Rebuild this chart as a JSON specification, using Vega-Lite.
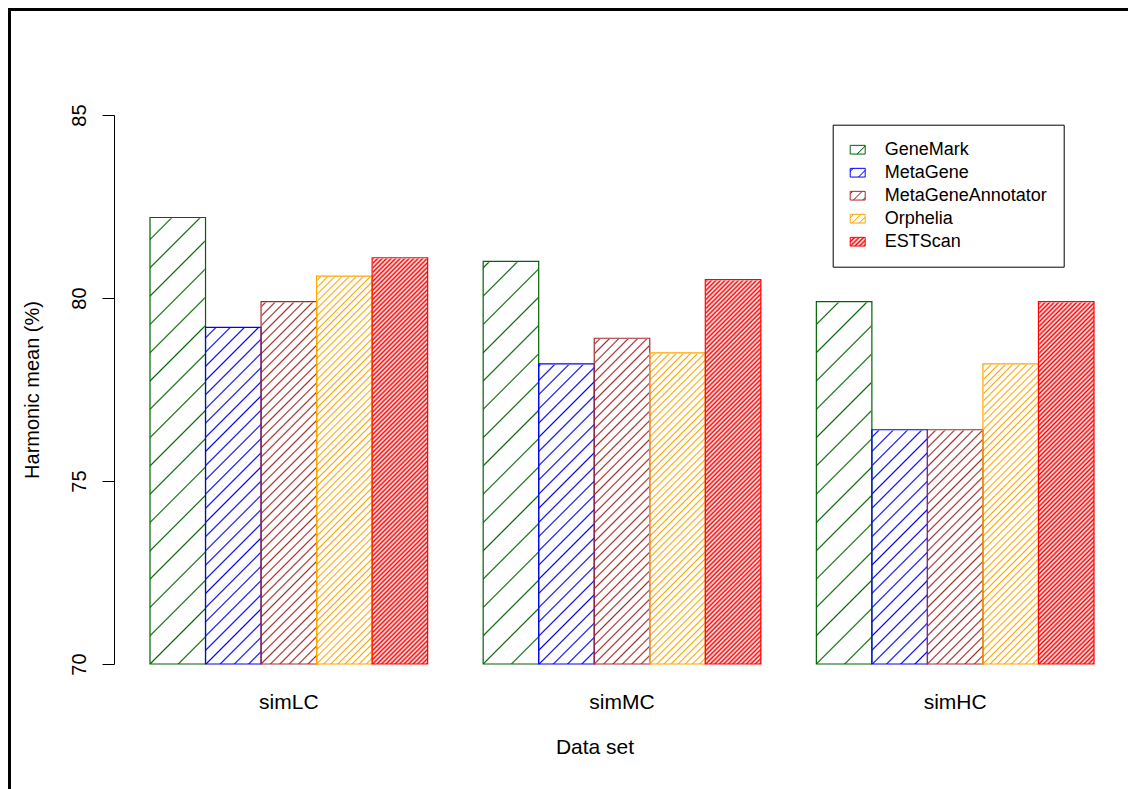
{
"$schema": "https://vega.github.io/schema/vega-lite/v6.json",
"autosize": "none",
"padding": {"left": 9, "top": 9, "right": 0, "bottom": 0},
"width": 1119,
"height": 780,
"background": "white",
"params": [
{"name": "lgGM", "value": {"gradient":"linear","x1":0,"y1":0,"x2":1.2471,"y2":0.7233,"stops":[{"offset":0,"color":"#fff"},{"offset":0.576,"color":"#fff"},{"offset":0.624,"color":"#006400"},{"offset":0.672,"color":"#fff"},{"offset":1,"color":"#fff"}]}},
{"name": "lgMG", "value": {"gradient":"linear","x1":0,"y1":0,"x2":1.2471,"y2":0.7233,"stops":[{"offset":0,"color":"#fff"},{"offset":0.072,"color":"#fff"},{"offset":0.12,"color":"#00f"},{"offset":0.168,"color":"#fff"},{"offset":0.632,"color":"#fff"},{"offset":0.68,"color":"#00f"},{"offset":0.728,"color":"#fff"},{"offset":1,"color":"#fff"}]}},
{"name": "lgMGA", "value": {"gradient":"linear","x1":0,"y1":0,"x2":1.2471,"y2":0.7233,"stops":[{"offset":0,"color":"#fff"},{"offset":0.052,"color":"#fff"},{"offset":0.1,"color":"#a52a2a"},{"offset":0.148,"color":"#fff"},{"offset":0.428,"color":"#fff"},{"offset":0.476,"color":"#a52a2a"},{"offset":0.524,"color":"#fff"},{"offset":0.804,"color":"#fff"},{"offset":0.852,"color":"#a52a2a"},{"offset":0.9,"color":"#fff"},{"offset":1,"color":"#fff"}]}},
{"name": "lgOR", "value": {"gradient":"linear","x1":0,"y1":0,"x2":1.2471,"y2":0.7233,"stops":[{"offset":0,"color":"#fff"},{"offset":0.092,"color":"#fff"},{"offset":0.14,"color":"#ffa500"},{"offset":0.188,"color":"#fff"},{"offset":0.376,"color":"#fff"},{"offset":0.424,"color":"#ffa500"},{"offset":0.472,"color":"#fff"},{"offset":0.66,"color":"#fff"},{"offset":0.708,"color":"#ffa500"},{"offset":0.756,"color":"#fff"},{"offset":1,"color":"#fff"}]}},
{"name": "lgES", "value": {"gradient":"linear","x1":0,"y1":0,"x2":1.2471,"y2":0.7233,"stops":[{"offset":0,"color":"#f00"},{"offset":0.09,"color":"#fff"},{"offset":0.18,"color":"#f00"},{"offset":0.27,"color":"#fff"},{"offset":0.36,"color":"#f00"},{"offset":0.45,"color":"#fff"},{"offset":0.54,"color":"#f00"},{"offset":0.63,"color":"#fff"},{"offset":0.72,"color":"#f00"},{"offset":0.81,"color":"#fff"},{"offset":0.9,"color":"#f00"},{"offset":0.99,"color":"#fff"}]}}
],
"data": {"values": [
{"set":"simLC","method":"GeneMark","value":82.2},
{"set":"simLC","method":"MetaGene","value":79.2},
{"set":"simLC","method":"MetaGeneAnnotator","value":79.9},
{"set":"simLC","method":"Orphelia","value":80.6},
{"set":"simLC","method":"ESTScan","value":81.1},
{"set":"simMC","method":"GeneMark","value":81.0},
{"set":"simMC","method":"MetaGene","value":78.2},
{"set":"simMC","method":"MetaGeneAnnotator","value":78.9},
{"set":"simMC","method":"Orphelia","value":78.5},
{"set":"simMC","method":"ESTScan","value":80.5},
{"set":"simHC","method":"GeneMark","value":79.9},
{"set":"simHC","method":"MetaGene","value":76.4},
{"set":"simHC","method":"MetaGeneAnnotator","value":76.4},
{"set":"simHC","method":"Orphelia","value":78.2},
{"set":"simHC","method":"ESTScan","value":79.9}
]},
"layer": [
{
"encoding": {
"x": {"field":"set","type":"nominal","sort":["simLC","simMC","simHC"],
 "scale":{"domain":["simLC","simMC","simHC"],"range":[141,1085],"paddingInner":0.166667,"paddingOuter":0},
 "axis":{"orient":"bottom","offset":-125,"domain":false,"ticks":false,"tickSize":0,"labelPadding":44.3,"labelBaseline":"alphabetic","labelAngle":0,"labelFontSize":21,"title":"Data set","titleFontSize":21,"titleX":585.5,"titleY":89.3,"titleBaseline":"alphabetic","titleAlign":"center","grid":false}},
"xOffset": {"field":"method","type":"nominal","scale":{"domain":["GeneMark","MetaGene","MetaGeneAnnotator","Orphelia","ESTScan"],"paddingInner":0,"paddingOuter":0}}
},
"layer": [
{"mark":{"type":"bar"},
 "encoding":{"y":{"field":"value","type":"quantitative","scale":{"domain":[70,85],"range":[655,106],"zero":false,"nice":false},"title":"Harmonic mean (%)"},"y2":{"datum":70},
  "fill":{"field":"method","type":"nominal",
   "scale":{"domain":["GeneMark","MetaGene","MetaGeneAnnotator","Orphelia","ESTScan"],"range":[{"expr":"lgGM"},{"expr":"lgMG"},{"expr":"lgMGA"},{"expr":"lgOR"},{"expr":"lgES"}]},
   "legend":{"orient":"none","legendX":823.7,"legendY":115.7,"title":null,"strokeColor":"black","fillColor":"white","padding":16,
    "symbolType":"M-1,-0.58H1V0.58H-1Z","symbolSize":225,"symbolStrokeColor":"black","symbolStrokeWidth":1,"symbolOpacity":1,
    "labelFontSize":18,"labelColor":"black","labelOffset":18,"labelLimit":400,"rowPadding":5}}}},
{"transform":[{"filter":"datum.method === 'GeneMark'"}],
 "mark":{"type":"bar","strokeWidth":0,"fill":{"gradient":"linear","x1":0,"y1":0,"x2":0.18237,"y2":1.80305,"stops":[
{"offset":0,"color":"#fff"},
{"offset":0.1229,"color":"#fff"},{"offset":0.1245,"color":"#006400"},{"offset":0.1261,"color":"#fff"},
{"offset":0.1512,"color":"#fff"},{"offset":0.1528,"color":"#006400"},{"offset":0.1544,"color":"#fff"},
{"offset":0.1795,"color":"#fff"},{"offset":0.1811,"color":"#006400"},{"offset":0.1827,"color":"#fff"},
{"offset":0.2078,"color":"#fff"},{"offset":0.2094,"color":"#006400"},{"offset":0.2110,"color":"#fff"},
{"offset":0.2361,"color":"#fff"},{"offset":0.2377,"color":"#006400"},{"offset":0.2393,"color":"#fff"},
{"offset":0.2644,"color":"#fff"},{"offset":0.2660,"color":"#006400"},{"offset":0.2676,"color":"#fff"},
{"offset":0.2927,"color":"#fff"},{"offset":0.2943,"color":"#006400"},{"offset":0.2959,"color":"#fff"},
{"offset":0.3210,"color":"#fff"},{"offset":0.3226,"color":"#006400"},{"offset":0.3242,"color":"#fff"},
{"offset":0.3493,"color":"#fff"},{"offset":0.3509,"color":"#006400"},{"offset":0.3525,"color":"#fff"},
{"offset":0.3776,"color":"#fff"},{"offset":0.3792,"color":"#006400"},{"offset":0.3808,"color":"#fff"},
{"offset":0.4059,"color":"#fff"},{"offset":0.4075,"color":"#006400"},{"offset":0.4091,"color":"#fff"},
{"offset":0.4342,"color":"#fff"},{"offset":0.4358,"color":"#006400"},{"offset":0.4374,"color":"#fff"},
{"offset":0.4625,"color":"#fff"},{"offset":0.4641,"color":"#006400"},{"offset":0.4657,"color":"#fff"},
{"offset":0.4908,"color":"#fff"},{"offset":0.4924,"color":"#006400"},{"offset":0.4940,"color":"#fff"},
{"offset":0.5191,"color":"#fff"},{"offset":0.5207,"color":"#006400"},{"offset":0.5223,"color":"#fff"},
{"offset":0.5474,"color":"#fff"},{"offset":0.5490,"color":"#006400"},{"offset":0.5506,"color":"#fff"},
{"offset":0.5757,"color":"#fff"},{"offset":0.5773,"color":"#006400"},{"offset":0.5789,"color":"#fff"},
{"offset":1,"color":"#fff"}]}},
 "encoding":{"y":{"datum":85,"type":"quantitative","scale":{"domain":[70,85],"range":[655,106],"zero":false,"nice":false},"title":"Harmonic mean (%)"},"y2":{"datum":70}}},
{"transform":[{"filter":"datum.method === 'MetaGene'"}],
 "mark":{"type":"bar","strokeWidth":0,"fill":{"gradient":"linear","x1":0,"y1":0,"x2":0.18237,"y2":1.80305,"stops":[
{"offset":0,"color":"#fff"},
{"offset":0.2213,"color":"#fff"},{"offset":0.2229,"color":"#00f"},{"offset":0.2245,"color":"#fff"},
{"offset":0.2355,"color":"#fff"},{"offset":0.2371,"color":"#00f"},{"offset":0.2387,"color":"#fff"},
{"offset":0.2497,"color":"#fff"},{"offset":0.2513,"color":"#00f"},{"offset":0.2529,"color":"#fff"},
{"offset":0.2639,"color":"#fff"},{"offset":0.2655,"color":"#00f"},{"offset":0.2671,"color":"#fff"},
{"offset":0.2781,"color":"#fff"},{"offset":0.2797,"color":"#00f"},{"offset":0.2813,"color":"#fff"},
{"offset":0.2923,"color":"#fff"},{"offset":0.2939,"color":"#00f"},{"offset":0.2955,"color":"#fff"},
{"offset":0.3065,"color":"#fff"},{"offset":0.3081,"color":"#00f"},{"offset":0.3097,"color":"#fff"},
{"offset":0.3207,"color":"#fff"},{"offset":0.3223,"color":"#00f"},{"offset":0.3239,"color":"#fff"},
{"offset":0.3349,"color":"#fff"},{"offset":0.3365,"color":"#00f"},{"offset":0.3381,"color":"#fff"},
{"offset":0.3491,"color":"#fff"},{"offset":0.3507,"color":"#00f"},{"offset":0.3523,"color":"#fff"},
{"offset":0.3633,"color":"#fff"},{"offset":0.3649,"color":"#00f"},{"offset":0.3665,"color":"#fff"},
{"offset":0.3775,"color":"#fff"},{"offset":0.3791,"color":"#00f"},{"offset":0.3807,"color":"#fff"},
{"offset":0.3917,"color":"#fff"},{"offset":0.3933,"color":"#00f"},{"offset":0.3949,"color":"#fff"},
{"offset":0.4059,"color":"#fff"},{"offset":0.4075,"color":"#00f"},{"offset":0.4091,"color":"#fff"},
{"offset":0.4201,"color":"#fff"},{"offset":0.4217,"color":"#00f"},{"offset":0.4233,"color":"#fff"},
{"offset":0.4343,"color":"#fff"},{"offset":0.4359,"color":"#00f"},{"offset":0.4375,"color":"#fff"},
{"offset":0.4485,"color":"#fff"},{"offset":0.4501,"color":"#00f"},{"offset":0.4517,"color":"#fff"},
{"offset":0.4627,"color":"#fff"},{"offset":0.4643,"color":"#00f"},{"offset":0.4659,"color":"#fff"},
{"offset":0.4769,"color":"#fff"},{"offset":0.4785,"color":"#00f"},{"offset":0.4801,"color":"#fff"},
{"offset":0.4911,"color":"#fff"},{"offset":0.4927,"color":"#00f"},{"offset":0.4943,"color":"#fff"},
{"offset":0.5053,"color":"#fff"},{"offset":0.5069,"color":"#00f"},{"offset":0.5085,"color":"#fff"},
{"offset":0.5195,"color":"#fff"},{"offset":0.5211,"color":"#00f"},{"offset":0.5227,"color":"#fff"},
{"offset":0.5337,"color":"#fff"},{"offset":0.5353,"color":"#00f"},{"offset":0.5369,"color":"#fff"},
{"offset":0.5479,"color":"#fff"},{"offset":0.5495,"color":"#00f"},{"offset":0.5511,"color":"#fff"},
{"offset":0.5621,"color":"#fff"},{"offset":0.5637,"color":"#00f"},{"offset":0.5653,"color":"#fff"},
{"offset":0.5763,"color":"#fff"},{"offset":0.5779,"color":"#00f"},{"offset":0.5795,"color":"#fff"},
{"offset":0.5905,"color":"#fff"},{"offset":0.5921,"color":"#00f"},{"offset":0.5937,"color":"#fff"},
{"offset":1,"color":"#fff"}]}},
 "encoding":{"y":{"datum":85,"type":"quantitative","scale":{"domain":[70,85],"range":[655,106],"zero":false,"nice":false},"title":"Harmonic mean (%)"},"y2":{"datum":70}}},
{"transform":[{"filter":"datum.method === 'MetaGeneAnnotator'"}],
 "mark":{"type":"bar","strokeWidth":0,"fill":{"gradient":"linear","x1":0,"y1":0,"x2":0.18237,"y2":1.80305,"stops":[
{"offset":0,"color":"#fff"},
{"offset":0.1902,"color":"#fff"},{"offset":0.1918,"color":"#a52a2a"},{"offset":0.1934,"color":"#fff"},
{"offset":0.1996,"color":"#fff"},{"offset":0.2012,"color":"#a52a2a"},{"offset":0.2028,"color":"#fff"},
{"offset":0.2090,"color":"#fff"},{"offset":0.2106,"color":"#a52a2a"},{"offset":0.2122,"color":"#fff"},
{"offset":0.2184,"color":"#fff"},{"offset":0.2200,"color":"#a52a2a"},{"offset":0.2216,"color":"#fff"},
{"offset":0.2278,"color":"#fff"},{"offset":0.2294,"color":"#a52a2a"},{"offset":0.2310,"color":"#fff"},
{"offset":0.2372,"color":"#fff"},{"offset":0.2388,"color":"#a52a2a"},{"offset":0.2404,"color":"#fff"},
{"offset":0.2466,"color":"#fff"},{"offset":0.2482,"color":"#a52a2a"},{"offset":0.2498,"color":"#fff"},
{"offset":0.2560,"color":"#fff"},{"offset":0.2576,"color":"#a52a2a"},{"offset":0.2592,"color":"#fff"},
{"offset":0.2654,"color":"#fff"},{"offset":0.2670,"color":"#a52a2a"},{"offset":0.2686,"color":"#fff"},
{"offset":0.2748,"color":"#fff"},{"offset":0.2764,"color":"#a52a2a"},{"offset":0.2780,"color":"#fff"},
{"offset":0.2842,"color":"#fff"},{"offset":0.2858,"color":"#a52a2a"},{"offset":0.2874,"color":"#fff"},
{"offset":0.2936,"color":"#fff"},{"offset":0.2952,"color":"#a52a2a"},{"offset":0.2968,"color":"#fff"},
{"offset":0.3030,"color":"#fff"},{"offset":0.3046,"color":"#a52a2a"},{"offset":0.3062,"color":"#fff"},
{"offset":0.3124,"color":"#fff"},{"offset":0.3140,"color":"#a52a2a"},{"offset":0.3156,"color":"#fff"},
{"offset":0.3218,"color":"#fff"},{"offset":0.3234,"color":"#a52a2a"},{"offset":0.3250,"color":"#fff"},
{"offset":0.3312,"color":"#fff"},{"offset":0.3328,"color":"#a52a2a"},{"offset":0.3344,"color":"#fff"},
{"offset":0.3406,"color":"#fff"},{"offset":0.3422,"color":"#a52a2a"},{"offset":0.3438,"color":"#fff"},
{"offset":0.3500,"color":"#fff"},{"offset":0.3516,"color":"#a52a2a"},{"offset":0.3532,"color":"#fff"},
{"offset":0.3594,"color":"#fff"},{"offset":0.3610,"color":"#a52a2a"},{"offset":0.3626,"color":"#fff"},
{"offset":0.3688,"color":"#fff"},{"offset":0.3704,"color":"#a52a2a"},{"offset":0.3720,"color":"#fff"},
{"offset":0.3782,"color":"#fff"},{"offset":0.3798,"color":"#a52a2a"},{"offset":0.3814,"color":"#fff"},
{"offset":0.3876,"color":"#fff"},{"offset":0.3892,"color":"#a52a2a"},{"offset":0.3908,"color":"#fff"},
{"offset":0.3970,"color":"#fff"},{"offset":0.3986,"color":"#a52a2a"},{"offset":0.4002,"color":"#fff"},
{"offset":0.4064,"color":"#fff"},{"offset":0.4080,"color":"#a52a2a"},{"offset":0.4096,"color":"#fff"},
{"offset":0.4158,"color":"#fff"},{"offset":0.4174,"color":"#a52a2a"},{"offset":0.4190,"color":"#fff"},
{"offset":0.4252,"color":"#fff"},{"offset":0.4268,"color":"#a52a2a"},{"offset":0.4284,"color":"#fff"},
{"offset":0.4346,"color":"#fff"},{"offset":0.4362,"color":"#a52a2a"},{"offset":0.4378,"color":"#fff"},
{"offset":0.4440,"color":"#fff"},{"offset":0.4456,"color":"#a52a2a"},{"offset":0.4472,"color":"#fff"},
{"offset":0.4534,"color":"#fff"},{"offset":0.4550,"color":"#a52a2a"},{"offset":0.4566,"color":"#fff"},
{"offset":0.4628,"color":"#fff"},{"offset":0.4644,"color":"#a52a2a"},{"offset":0.4660,"color":"#fff"},
{"offset":0.4722,"color":"#fff"},{"offset":0.4738,"color":"#a52a2a"},{"offset":0.4754,"color":"#fff"},
{"offset":0.4816,"color":"#fff"},{"offset":0.4832,"color":"#a52a2a"},{"offset":0.4848,"color":"#fff"},
{"offset":0.4910,"color":"#fff"},{"offset":0.4926,"color":"#a52a2a"},{"offset":0.4942,"color":"#fff"},
{"offset":0.5004,"color":"#fff"},{"offset":0.5020,"color":"#a52a2a"},{"offset":0.5036,"color":"#fff"},
{"offset":0.5098,"color":"#fff"},{"offset":0.5114,"color":"#a52a2a"},{"offset":0.5130,"color":"#fff"},
{"offset":0.5192,"color":"#fff"},{"offset":0.5208,"color":"#a52a2a"},{"offset":0.5224,"color":"#fff"},
{"offset":0.5286,"color":"#fff"},{"offset":0.5302,"color":"#a52a2a"},{"offset":0.5318,"color":"#fff"},
{"offset":0.5380,"color":"#fff"},{"offset":0.5396,"color":"#a52a2a"},{"offset":0.5412,"color":"#fff"},
{"offset":0.5474,"color":"#fff"},{"offset":0.5490,"color":"#a52a2a"},{"offset":0.5506,"color":"#fff"},
{"offset":0.5568,"color":"#fff"},{"offset":0.5584,"color":"#a52a2a"},{"offset":0.5600,"color":"#fff"},
{"offset":0.5662,"color":"#fff"},{"offset":0.5678,"color":"#a52a2a"},{"offset":0.5694,"color":"#fff"},
{"offset":0.5756,"color":"#fff"},{"offset":0.5772,"color":"#a52a2a"},{"offset":0.5788,"color":"#fff"},
{"offset":0.5850,"color":"#fff"},{"offset":0.5866,"color":"#a52a2a"},{"offset":0.5882,"color":"#fff"},
{"offset":0.5944,"color":"#fff"},{"offset":0.5960,"color":"#a52a2a"},{"offset":0.5976,"color":"#fff"},
{"offset":1,"color":"#fff"}]}},
 "encoding":{"y":{"datum":85,"type":"quantitative","scale":{"domain":[70,85],"range":[655,106],"zero":false,"nice":false},"title":"Harmonic mean (%)"},"y2":{"datum":70}}},
{"transform":[{"filter":"datum.method === 'Orphelia'"}],
 "mark":{"type":"bar","strokeWidth":0,"fill":{"gradient":"linear","x1":0,"y1":0,"x2":0.18237,"y2":1.80305,"stops":[
{"offset":0,"color":"#fff"},
{"offset":0.1641,"color":"#fff"},{"offset":0.1656,"color":"#ffa500"},{"offset":0.1671,"color":"#fff"},
{"offset":0.1712,"color":"#fff"},{"offset":0.1727,"color":"#ffa500"},{"offset":0.1742,"color":"#fff"},
{"offset":0.1783,"color":"#fff"},{"offset":0.1798,"color":"#ffa500"},{"offset":0.1813,"color":"#fff"},
{"offset":0.1854,"color":"#fff"},{"offset":0.1869,"color":"#ffa500"},{"offset":0.1884,"color":"#fff"},
{"offset":0.1925,"color":"#fff"},{"offset":0.1940,"color":"#ffa500"},{"offset":0.1955,"color":"#fff"},
{"offset":0.1996,"color":"#fff"},{"offset":0.2011,"color":"#ffa500"},{"offset":0.2026,"color":"#fff"},
{"offset":0.2067,"color":"#fff"},{"offset":0.2082,"color":"#ffa500"},{"offset":0.2097,"color":"#fff"},
{"offset":0.2138,"color":"#fff"},{"offset":0.2153,"color":"#ffa500"},{"offset":0.2168,"color":"#fff"},
{"offset":0.2209,"color":"#fff"},{"offset":0.2224,"color":"#ffa500"},{"offset":0.2239,"color":"#fff"},
{"offset":0.2280,"color":"#fff"},{"offset":0.2295,"color":"#ffa500"},{"offset":0.2310,"color":"#fff"},
{"offset":0.2351,"color":"#fff"},{"offset":0.2366,"color":"#ffa500"},{"offset":0.2381,"color":"#fff"},
{"offset":0.2422,"color":"#fff"},{"offset":0.2437,"color":"#ffa500"},{"offset":0.2452,"color":"#fff"},
{"offset":0.2493,"color":"#fff"},{"offset":0.2508,"color":"#ffa500"},{"offset":0.2523,"color":"#fff"},
{"offset":0.2564,"color":"#fff"},{"offset":0.2579,"color":"#ffa500"},{"offset":0.2594,"color":"#fff"},
{"offset":0.2635,"color":"#fff"},{"offset":0.2650,"color":"#ffa500"},{"offset":0.2665,"color":"#fff"},
{"offset":0.2706,"color":"#fff"},{"offset":0.2721,"color":"#ffa500"},{"offset":0.2736,"color":"#fff"},
{"offset":0.2777,"color":"#fff"},{"offset":0.2792,"color":"#ffa500"},{"offset":0.2807,"color":"#fff"},
{"offset":0.2848,"color":"#fff"},{"offset":0.2863,"color":"#ffa500"},{"offset":0.2878,"color":"#fff"},
{"offset":0.2919,"color":"#fff"},{"offset":0.2934,"color":"#ffa500"},{"offset":0.2949,"color":"#fff"},
{"offset":0.2990,"color":"#fff"},{"offset":0.3005,"color":"#ffa500"},{"offset":0.3020,"color":"#fff"},
{"offset":0.3061,"color":"#fff"},{"offset":0.3076,"color":"#ffa500"},{"offset":0.3091,"color":"#fff"},
{"offset":0.3132,"color":"#fff"},{"offset":0.3147,"color":"#ffa500"},{"offset":0.3162,"color":"#fff"},
{"offset":0.3203,"color":"#fff"},{"offset":0.3218,"color":"#ffa500"},{"offset":0.3233,"color":"#fff"},
{"offset":0.3274,"color":"#fff"},{"offset":0.3289,"color":"#ffa500"},{"offset":0.3304,"color":"#fff"},
{"offset":0.3345,"color":"#fff"},{"offset":0.3360,"color":"#ffa500"},{"offset":0.3375,"color":"#fff"},
{"offset":0.3416,"color":"#fff"},{"offset":0.3431,"color":"#ffa500"},{"offset":0.3446,"color":"#fff"},
{"offset":0.3487,"color":"#fff"},{"offset":0.3502,"color":"#ffa500"},{"offset":0.3517,"color":"#fff"},
{"offset":0.3558,"color":"#fff"},{"offset":0.3573,"color":"#ffa500"},{"offset":0.3588,"color":"#fff"},
{"offset":0.3629,"color":"#fff"},{"offset":0.3644,"color":"#ffa500"},{"offset":0.3659,"color":"#fff"},
{"offset":0.3700,"color":"#fff"},{"offset":0.3715,"color":"#ffa500"},{"offset":0.3730,"color":"#fff"},
{"offset":0.3771,"color":"#fff"},{"offset":0.3786,"color":"#ffa500"},{"offset":0.3801,"color":"#fff"},
{"offset":0.3842,"color":"#fff"},{"offset":0.3857,"color":"#ffa500"},{"offset":0.3872,"color":"#fff"},
{"offset":0.3913,"color":"#fff"},{"offset":0.3928,"color":"#ffa500"},{"offset":0.3943,"color":"#fff"},
{"offset":0.3984,"color":"#fff"},{"offset":0.3999,"color":"#ffa500"},{"offset":0.4014,"color":"#fff"},
{"offset":0.4055,"color":"#fff"},{"offset":0.4070,"color":"#ffa500"},{"offset":0.4085,"color":"#fff"},
{"offset":0.4126,"color":"#fff"},{"offset":0.4141,"color":"#ffa500"},{"offset":0.4156,"color":"#fff"},
{"offset":0.4197,"color":"#fff"},{"offset":0.4212,"color":"#ffa500"},{"offset":0.4227,"color":"#fff"},
{"offset":0.4268,"color":"#fff"},{"offset":0.4283,"color":"#ffa500"},{"offset":0.4298,"color":"#fff"},
{"offset":0.4339,"color":"#fff"},{"offset":0.4354,"color":"#ffa500"},{"offset":0.4369,"color":"#fff"},
{"offset":0.4410,"color":"#fff"},{"offset":0.4425,"color":"#ffa500"},{"offset":0.4440,"color":"#fff"},
{"offset":0.4481,"color":"#fff"},{"offset":0.4496,"color":"#ffa500"},{"offset":0.4511,"color":"#fff"},
{"offset":0.4552,"color":"#fff"},{"offset":0.4567,"color":"#ffa500"},{"offset":0.4582,"color":"#fff"},
{"offset":0.4623,"color":"#fff"},{"offset":0.4638,"color":"#ffa500"},{"offset":0.4653,"color":"#fff"},
{"offset":0.4694,"color":"#fff"},{"offset":0.4709,"color":"#ffa500"},{"offset":0.4724,"color":"#fff"},
{"offset":0.4765,"color":"#fff"},{"offset":0.4780,"color":"#ffa500"},{"offset":0.4795,"color":"#fff"},
{"offset":0.4836,"color":"#fff"},{"offset":0.4851,"color":"#ffa500"},{"offset":0.4866,"color":"#fff"},
{"offset":0.4907,"color":"#fff"},{"offset":0.4922,"color":"#ffa500"},{"offset":0.4937,"color":"#fff"},
{"offset":0.4978,"color":"#fff"},{"offset":0.4993,"color":"#ffa500"},{"offset":0.5008,"color":"#fff"},
{"offset":0.5049,"color":"#fff"},{"offset":0.5064,"color":"#ffa500"},{"offset":0.5079,"color":"#fff"},
{"offset":0.5120,"color":"#fff"},{"offset":0.5135,"color":"#ffa500"},{"offset":0.5150,"color":"#fff"},
{"offset":0.5191,"color":"#fff"},{"offset":0.5206,"color":"#ffa500"},{"offset":0.5221,"color":"#fff"},
{"offset":0.5262,"color":"#fff"},{"offset":0.5277,"color":"#ffa500"},{"offset":0.5292,"color":"#fff"},
{"offset":0.5333,"color":"#fff"},{"offset":0.5348,"color":"#ffa500"},{"offset":0.5363,"color":"#fff"},
{"offset":0.5404,"color":"#fff"},{"offset":0.5419,"color":"#ffa500"},{"offset":0.5434,"color":"#fff"},
{"offset":0.5475,"color":"#fff"},{"offset":0.5490,"color":"#ffa500"},{"offset":0.5505,"color":"#fff"},
{"offset":0.5546,"color":"#fff"},{"offset":0.5561,"color":"#ffa500"},{"offset":0.5576,"color":"#fff"},
{"offset":0.5617,"color":"#fff"},{"offset":0.5632,"color":"#ffa500"},{"offset":0.5647,"color":"#fff"},
{"offset":0.5688,"color":"#fff"},{"offset":0.5703,"color":"#ffa500"},{"offset":0.5718,"color":"#fff"},
{"offset":0.5759,"color":"#fff"},{"offset":0.5774,"color":"#ffa500"},{"offset":0.5789,"color":"#fff"},
{"offset":0.5830,"color":"#fff"},{"offset":0.5845,"color":"#ffa500"},{"offset":0.5860,"color":"#fff"},
{"offset":0.5901,"color":"#fff"},{"offset":0.5916,"color":"#ffa500"},{"offset":0.5931,"color":"#fff"},
{"offset":0.5972,"color":"#fff"},{"offset":0.5987,"color":"#ffa500"},{"offset":0.6002,"color":"#fff"},
{"offset":1,"color":"#fff"}]}},
 "encoding":{"y":{"datum":85,"type":"quantitative","scale":{"domain":[70,85],"range":[655,106],"zero":false,"nice":false},"title":"Harmonic mean (%)"},"y2":{"datum":70}}},
{"transform":[{"filter":"datum.method === 'ESTScan'"}],
 "mark":{"type":"bar","strokeWidth":0,"fill":{"gradient":"linear","x1":0,"y1":0,"x2":0.18237,"y2":1.80305,"stops":[
{"offset":0,"color":"#fff"},{"offset":0.1378,"color":"#fff"},
{"offset":0.14,"color":"#f00"},{"offset":0.14225,"color":"#fff"},{"offset":0.1445,"color":"#f00"},{"offset":0.14675,"color":"#fff"},
{"offset":0.149,"color":"#f00"},{"offset":0.15125,"color":"#fff"},{"offset":0.1535,"color":"#f00"},{"offset":0.15575,"color":"#fff"},
{"offset":0.158,"color":"#f00"},{"offset":0.16025,"color":"#fff"},{"offset":0.1625,"color":"#f00"},{"offset":0.16475,"color":"#fff"},
{"offset":0.167,"color":"#f00"},{"offset":0.16925,"color":"#fff"},{"offset":0.1715,"color":"#f00"},{"offset":0.17375,"color":"#fff"},
{"offset":0.176,"color":"#f00"},{"offset":0.17825,"color":"#fff"},{"offset":0.1805,"color":"#f00"},{"offset":0.18275,"color":"#fff"},
{"offset":0.185,"color":"#f00"},{"offset":0.18725,"color":"#fff"},{"offset":0.1895,"color":"#f00"},{"offset":0.19175,"color":"#fff"},
{"offset":0.194,"color":"#f00"},{"offset":0.19625,"color":"#fff"},{"offset":0.1985,"color":"#f00"},{"offset":0.20075,"color":"#fff"},
{"offset":0.203,"color":"#f00"},{"offset":0.20525,"color":"#fff"},{"offset":0.2075,"color":"#f00"},{"offset":0.20975,"color":"#fff"},
{"offset":0.212,"color":"#f00"},{"offset":0.21425,"color":"#fff"},{"offset":0.2165,"color":"#f00"},{"offset":0.21875,"color":"#fff"},
{"offset":0.221,"color":"#f00"},{"offset":0.22325,"color":"#fff"},{"offset":0.2255,"color":"#f00"},{"offset":0.22775,"color":"#fff"},
{"offset":0.23,"color":"#f00"},{"offset":0.23225,"color":"#fff"},{"offset":0.2345,"color":"#f00"},{"offset":0.23675,"color":"#fff"},
{"offset":0.239,"color":"#f00"},{"offset":0.24125,"color":"#fff"},{"offset":0.2435,"color":"#f00"},{"offset":0.24575,"color":"#fff"},
{"offset":0.248,"color":"#f00"},{"offset":0.25025,"color":"#fff"},{"offset":0.2525,"color":"#f00"},{"offset":0.25475,"color":"#fff"},
{"offset":0.257,"color":"#f00"},{"offset":0.25925,"color":"#fff"},{"offset":0.2615,"color":"#f00"},{"offset":0.26375,"color":"#fff"},
{"offset":0.266,"color":"#f00"},{"offset":0.26825,"color":"#fff"},{"offset":0.2705,"color":"#f00"},{"offset":0.27275,"color":"#fff"},
{"offset":0.275,"color":"#f00"},{"offset":0.27725,"color":"#fff"},{"offset":0.2795,"color":"#f00"},{"offset":0.28175,"color":"#fff"},
{"offset":0.284,"color":"#f00"},{"offset":0.28625,"color":"#fff"},{"offset":0.2885,"color":"#f00"},{"offset":0.29075,"color":"#fff"},
{"offset":0.293,"color":"#f00"},{"offset":0.29525,"color":"#fff"},{"offset":0.2975,"color":"#f00"},{"offset":0.29975,"color":"#fff"},
{"offset":0.302,"color":"#f00"},{"offset":0.30425,"color":"#fff"},{"offset":0.3065,"color":"#f00"},{"offset":0.30875,"color":"#fff"},
{"offset":0.311,"color":"#f00"},{"offset":0.31325,"color":"#fff"},{"offset":0.3155,"color":"#f00"},{"offset":0.31775,"color":"#fff"},
{"offset":0.32,"color":"#f00"},{"offset":0.32225,"color":"#fff"},{"offset":0.3245,"color":"#f00"},{"offset":0.32675,"color":"#fff"},
{"offset":0.329,"color":"#f00"},{"offset":0.33125,"color":"#fff"},{"offset":0.3335,"color":"#f00"},{"offset":0.33575,"color":"#fff"},
{"offset":0.338,"color":"#f00"},{"offset":0.34025,"color":"#fff"},{"offset":0.3425,"color":"#f00"},{"offset":0.34475,"color":"#fff"},
{"offset":0.347,"color":"#f00"},{"offset":0.34925,"color":"#fff"},{"offset":0.3515,"color":"#f00"},{"offset":0.35375,"color":"#fff"},
{"offset":0.356,"color":"#f00"},{"offset":0.35825,"color":"#fff"},{"offset":0.3605,"color":"#f00"},{"offset":0.36275,"color":"#fff"},
{"offset":0.365,"color":"#f00"},{"offset":0.36725,"color":"#fff"},{"offset":0.3695,"color":"#f00"},{"offset":0.37175,"color":"#fff"},
{"offset":0.374,"color":"#f00"},{"offset":0.37625,"color":"#fff"},{"offset":0.3785,"color":"#f00"},{"offset":0.38075,"color":"#fff"},
{"offset":0.383,"color":"#f00"},{"offset":0.38525,"color":"#fff"},{"offset":0.3875,"color":"#f00"},{"offset":0.38975,"color":"#fff"},
{"offset":0.392,"color":"#f00"},{"offset":0.39425,"color":"#fff"},{"offset":0.3965,"color":"#f00"},{"offset":0.39875,"color":"#fff"},
{"offset":0.401,"color":"#f00"},{"offset":0.40325,"color":"#fff"},{"offset":0.4055,"color":"#f00"},{"offset":0.40775,"color":"#fff"},
{"offset":0.41,"color":"#f00"},{"offset":0.41225,"color":"#fff"},{"offset":0.4145,"color":"#f00"},{"offset":0.41675,"color":"#fff"},
{"offset":0.419,"color":"#f00"},{"offset":0.42125,"color":"#fff"},{"offset":0.4235,"color":"#f00"},{"offset":0.42575,"color":"#fff"},
{"offset":0.428,"color":"#f00"},{"offset":0.43025,"color":"#fff"},{"offset":0.4325,"color":"#f00"},{"offset":0.43475,"color":"#fff"},
{"offset":0.437,"color":"#f00"},{"offset":0.43925,"color":"#fff"},{"offset":0.4415,"color":"#f00"},{"offset":0.44375,"color":"#fff"},
{"offset":0.446,"color":"#f00"},{"offset":0.44825,"color":"#fff"},{"offset":0.4505,"color":"#f00"},{"offset":0.45275,"color":"#fff"},
{"offset":0.455,"color":"#f00"},{"offset":0.45725,"color":"#fff"},{"offset":0.4595,"color":"#f00"},{"offset":0.46175,"color":"#fff"},
{"offset":0.464,"color":"#f00"},{"offset":0.46625,"color":"#fff"},{"offset":0.4685,"color":"#f00"},{"offset":0.47075,"color":"#fff"},
{"offset":0.473,"color":"#f00"},{"offset":0.47525,"color":"#fff"},{"offset":0.4775,"color":"#f00"},{"offset":0.47975,"color":"#fff"},
{"offset":0.482,"color":"#f00"},{"offset":0.48425,"color":"#fff"},{"offset":0.4865,"color":"#f00"},{"offset":0.48875,"color":"#fff"},
{"offset":0.491,"color":"#f00"},{"offset":0.49325,"color":"#fff"},{"offset":0.4955,"color":"#f00"},{"offset":0.49775,"color":"#fff"},
{"offset":0.5,"color":"#f00"},{"offset":0.50225,"color":"#fff"},{"offset":0.5045,"color":"#f00"},{"offset":0.50675,"color":"#fff"},
{"offset":0.509,"color":"#f00"},{"offset":0.51125,"color":"#fff"},{"offset":0.5135,"color":"#f00"},{"offset":0.51575,"color":"#fff"},
{"offset":0.518,"color":"#f00"},{"offset":0.52025,"color":"#fff"},{"offset":0.5225,"color":"#f00"},{"offset":0.52475,"color":"#fff"},
{"offset":0.527,"color":"#f00"},{"offset":0.52925,"color":"#fff"},{"offset":0.5315,"color":"#f00"},{"offset":0.53375,"color":"#fff"},
{"offset":0.536,"color":"#f00"},{"offset":0.53825,"color":"#fff"},{"offset":0.5405,"color":"#f00"},{"offset":0.54275,"color":"#fff"},
{"offset":0.545,"color":"#f00"},{"offset":0.54725,"color":"#fff"},{"offset":0.5495,"color":"#f00"},{"offset":0.55175,"color":"#fff"},
{"offset":0.554,"color":"#f00"},{"offset":0.55625,"color":"#fff"},{"offset":0.5585,"color":"#f00"},{"offset":0.56075,"color":"#fff"},
{"offset":0.563,"color":"#f00"},{"offset":0.56525,"color":"#fff"},{"offset":0.5675,"color":"#f00"},{"offset":0.56975,"color":"#fff"},
{"offset":0.572,"color":"#f00"},{"offset":0.57425,"color":"#fff"},{"offset":0.5765,"color":"#f00"},{"offset":0.57875,"color":"#fff"},
{"offset":0.581,"color":"#f00"},{"offset":0.58325,"color":"#fff"},{"offset":0.5855,"color":"#f00"},{"offset":0.58775,"color":"#fff"},
{"offset":0.59,"color":"#f00"},{"offset":0.59225,"color":"#fff"},{"offset":0.5945,"color":"#f00"},{"offset":0.59675,"color":"#fff"},
{"offset":0.599,"color":"#f00"},{"offset":0.60125,"color":"#fff"},{"offset":0.6035,"color":"#f00"},{"offset":0.60575,"color":"#fff"},
{"offset":1,"color":"#fff"}]}},
 "encoding":{"y":{"datum":85,"type":"quantitative","scale":{"domain":[70,85],"range":[655,106],"zero":false,"nice":false},"title":"Harmonic mean (%)"},"y2":{"datum":70}}},
{"mark":{"type":"bar","fill":"white","stroke":"white","strokeWidth":1.5},
 "encoding":{"y":{"field":"value","type":"quantitative","scale":{"domain":[70,85],"range":[655,106],"zero":false,"nice":false},"title":"Harmonic mean (%)"},"y2":{"datum":85}}},
{"mark":{"type":"bar","filled":false,"strokeWidth":1.2},
 "encoding":{
  "y":{"field":"value","type":"quantitative","scale":{"domain":[70,85],"range":[655,106],"zero":false,"nice":false},
   "axis":{"orient":"left","offset":-105,"values":[70,75,80,85],"grid":false,"tickSize":12,"labelAngle":-90,"labelAlign":"center","labelBaseline":"alphabetic","labelPadding":16.5,"labelFontSize":20,"labelOverlap":false,"labelFlush":false,"title":"Harmonic mean (%)","titleFontSize":20,"titleX":-75.5,"titleY":380.5,"titleAngle":-90,"titleBaseline":"alphabetic","titleAlign":"center"}},
  "y2":{"datum":70},
  "stroke":{"field":"method","type":"nominal",
   "scale":{"domain":["GeneMark","MetaGene","MetaGeneAnnotator","Orphelia","ESTScan"],"range":["#006400","#0000ff","#a52a2a","#ffa500","#ff0000"]},
   "legend":null}
 }}
]
},
{
"data": {"values": [{"k": 0}]},
"mark": {"type": "point", "opacity": 0},
"encoding": {
 "x": {"datum": 0, "type": "quantitative", "scale": {"domain": [0, 1], "range": [0, 1119], "zero": false, "nice": false},
  "axis": {"orient": "top", "offset": 0, "domain": true, "domainWidth": 3, "domainColor": "black", "domainCap": "square", "ticks": false, "labels": false, "grid": false, "title": null}},
 "y": {"datum": 0, "type": "quantitative", "scale": {"domain": [0, 1], "range": [0, 780], "zero": false, "nice": false},
  "axis": {"orient": "left", "offset": 0, "domain": true, "domainWidth": 3, "domainColor": "black", "domainCap": "square", "ticks": false, "labels": false, "grid": false, "title": null}}
}
}
],
"resolve": {"scale": {"x": "independent", "y": "independent"}, "axis": {"x": "independent", "y": "independent"}},
"config": {
"font": "Liberation Sans",
"view": {"stroke": null},
"axis": {"labelColor": "black", "titleColor": "black", "domainColor": "black", "tickColor": "black", "titleFontWeight": "normal", "labelFont": "Liberation Sans", "titleFont": "Liberation Sans"},
"legend": {"labelFont": "Liberation Sans"}
}
}
